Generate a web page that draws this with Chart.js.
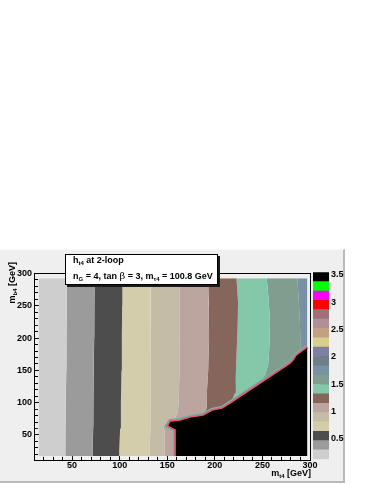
<!DOCTYPE html>
<html>
<head>
<meta charset="utf-8">
<script src="https://cdn.jsdelivr.net/npm/chart.js@4/dist/chart.umd.min.js"></script>
<style>
  body { margin:0; background:#ffffff; }
  #wrap { position:relative; width:374px; height:484px; overflow:hidden; font-family:"Liberation Sans", Arial, sans-serif; font-weight:bold; color:#000; }
  #pad { position:absolute; left:0; top:249px; width:343px; height:231px; background:#efefef; border-top:1px solid #fbfbfb; border-right:2px solid #b9b9b9; border-bottom:2px solid #b9b9b9; }
  canvas { position:absolute; left:0; top:0; }
  #tbox { position:absolute; left:65px; top:254px; width:151px; height:29px; background:#fff; border:1px solid #000; box-shadow:2px 2px 0 #1a1a1a; font-size:9px; }
  .tl { position:absolute; left:7px; white-space:nowrap; line-height:10px; }
  sub { font-size:6px; vertical-align:-2px; line-height:0; }
  .sym { font-family:"DejaVu Serif", serif; font-weight:normal; font-size:10px; }
  #xt { position:absolute; right:63px; top:468px; font-size:9px; white-space:nowrap; line-height:10px; }
  #yt { position:absolute; left:7px; top:262px; font-size:9px; white-space:nowrap; line-height:10px; transform-origin:0 0; transform:rotate(-90deg) translateX(-100%); }
</style>
</head>
<body>
<div id="wrap">
  <div id="pad"></div>
  <canvas id="main" width="374" height="484"></canvas>
  <canvas id="cbar" width="374" height="484"></canvas>
  <div id="tbox">
    <div class="tl" style="top:0px">h<sub>t4</sub> at 2-loop</div>
    <div class="tl" style="top:16px">n<sub>G</sub> = 4, tan <span class="sym">β</span> = 3, m<sub>τ4</sub> = 100.8 GeV</div>
  </div>
  <div id="xt">m<sub>t4</sub> [GeV]</div>
  <div id="yt">m<sub>b4</sub> [GeV]</div>
</div>
<script>
// ---------------- data ----------------
const xTickLabels = [50, 100, 150, 200, 250, 300];
const yTickLabels = [50, 100, 150, 200, 250, 300];
const zTickLabels = [0.5, 1, 1.5, 2, 2.5, 3, 3.5];

// contour levels of h_t4 (palette edges, bottom to top)
const contourLevels = [0.127, 0.298, 0.469, 0.640, 0.811, 0.982, 1.153, 1.324, 1.495, 1.666,
                       1.837, 2.008, 2.180, 2.351, 2.522, 2.693, 2.864, 3.035, 3.206, 3.377, 3.548];
const paletteColors = ['#cecece', '#9b9b9b', '#4d4d4d', '#d3cdab', '#c4bca7', '#bca59e', '#86665a',
                       '#84c7a9', '#809d8f', '#7892a3', '#6e7f89', '#7f7fa1', '#d6d08b', '#c1a180',
                       '#b08f98', '#a06f79', '#ff0000', '#ff00ff', '#00ff00', '#000000'];

// contour boundaries: [m_t4, m_b4] in GeV, ordered by m_b4
const edgeLeft  = [[15, 17.25], [15, 292.75]];
const contour1  = [[42.6, 17.25], [43.0, 60], [43.4, 100], [43.8, 150], [44.2, 200], [44.5, 250], [44.8, 292.75]];
const contour2  = [[71.6, 17.25], [72.0, 60], [72.4, 100], [72.8, 150], [73.1, 200], [73.4, 250], [73.7, 292.75]];
const contour3  = [[99.3, 17.25], [100.5, 60], [101.3, 100], [101.9, 150], [102.3, 200], [102.6, 250], [102.8, 292.75]];
const contour4  = [[131.3, 17.25], [132.1, 60], [132.4, 100], [132.4, 150], [132.3, 200], [132.5, 250], [132.8, 292.75]];
const contour5  = [[147.5, 17.25], [147.5, 55], [145.5, 64], [150, 70], [158, 76], [161, 85], [162, 100], [162.7, 150], [162.9, 200], [162.9, 250], [162.8, 292.75]];
const contour6  = [[190.5, 17.25], [190.5, 85], [191.5, 95], [191.8, 120], [193, 150], [193.9, 200], [193.6, 250], [193.1, 292.75]];
const contour7  = [[212.5, 17.25], [212.5, 96], [218.1, 104], [221.2, 115], [222, 140], [223, 182], [224, 220], [224.4, 255], [222.8, 292.75]];
const contour8  = [[250, 17.25], [250, 138], [252.8, 143], [256, 158], [257.5, 190], [258, 228], [256.5, 260], [254.5, 292.75]];
const contour9  = [[290.5, 17.25], [290.5, 186], [289.9, 200], [288.5, 250], [286.7, 292.75]];
const edgeRight = [[297, 17.25], [297, 292.75]];

// edge of the region with h_t4 above the top level (black)
const blackEdge = [[158.2, 17.25], [158.2, 57.7], [149.8, 63.9], [153.0, 71.6], [163.4, 73.2], [173.9, 77.8],
                   [187.6, 80.9], [197.0, 88.6], [207.5, 91.7], [215.9, 99.5], [279.0, 161.4], [282.1, 166.1],
                   [285.3, 173.8], [289.5, 178.4], [297, 186.2]];

const boundaries = [edgeLeft, contour1, contour2, contour3, contour4, contour5,
                    contour6, contour7, contour8, contour9, edgeRight];

// ---------------- main chart ----------------
const font = { family: '"Liberation Sans", Arial, sans-serif', size: 9, weight: 'bold' };
const seam = 'rgba(255,255,255,0.13)';

const datasets = [];
datasets.push({ data: blackEdge, borderColor: '#f0507c', borderWidth: 1.6, backgroundColor: '#000000',
                fill: 2 + boundaries.length - 1, pointRadius: 0, xAxisID: 'x', yAxisID: 'y' });
datasets.push({ data: blackEdge, borderColor: '#6cb79c', borderWidth: 4.5, fill: false,
                pointRadius: 0, xAxisID: 'x', yAxisID: 'y' });
boundaries.forEach((b, i) => {
  datasets.push({ data: b, borderWidth: 0, borderColor: 'rgba(0,0,0,0)',
                  backgroundColor: i ? paletteColors[i - 1] : 'rgba(0,0,0,0)',
                  fill: i ? '-1' : false, pointRadius: 0, xAxisID: 'x', yAxisID: 'y' });
});

const hiddenBase = (pos, weight, extra) => Object.assign({
  type: 'linear', position: pos, weight: weight, min: 10, max: 300,
  ticks: { display: false },
  border: { display: false },
}, extra);

new Chart(document.getElementById('main'), {
  type: 'line',
  data: { datasets },
  options: {
    responsive: false, animation: false, events: [], devicePixelRatio: 1,
    indexAxis: 'y',
    layout: { padding: { left: 0, top: 273.5, right: 64, bottom: 0 } },
    plugins: { legend: { display: false }, tooltip: { enabled: false } },
    elements: { line: { tension: 0 } },
    scales: {
      x: {
        type: 'linear', position: 'bottom', min: 10, max: 300, z: 1,
        ticks: { stepSize: 10, maxTicksLimit: 1000, autoSkip: false, maxRotation: 0, minRotation: 0, padding: 3, font, color: '#000',
                 callback: v => xTickLabels.includes(v) ? String(v) : '' },
        grid: { drawOnChartArea: false, drawTicks: true, tickLength: -4, tickColor: '#000', tickWidth: 1 },
        border: { display: true, color: '#000', width: 1 },
        afterFit: s => { s.height = 23.2; }
      },
      xMaj: hiddenBase('bottom', -1, {
        z: 1, ticks: { display: false, stepSize: 50 },
        grid: { drawOnChartArea: false, drawTicks: true, tickLength: -8, tickColor: '#000', tickWidth: 1 },
        afterFit: s => { s.height = 0; }
      }),
      xg: hiddenBase('bottom', -2, {
        z: 1,
        grid: { drawOnChartArea: true, drawTicks: false, color: seam, lineWidth: 1 },
        afterBuildTicks: s => { const t = []; for (let v = 15; v < 300; v += 10) t.push({ value: v }); s.ticks = t; },
        afterFit: s => { s.height = 0; }
      }),
      xTop: hiddenBase('top', 0, {
        grid: { drawOnChartArea: false, drawTicks: false },
        border: { display: true, color: '#000', width: 1 },
        afterFit: s => { s.height = 0; }
      }),
      y: {
        type: 'linear', position: 'left', min: 10, max: 300, z: 1,
        ticks: { stepSize: 10, maxTicksLimit: 1000, autoSkip: false, padding: 6, font, color: '#000',
                 callback: v => yTickLabels.includes(v) ? String(v) : '' },
        grid: { drawOnChartArea: false, drawTicks: true, tickLength: -4, tickColor: '#000', tickWidth: 1 },
        border: { display: true, color: '#000', width: 1 },
        afterFit: s => { s.width = 34; }
      },
      yMaj: hiddenBase('left', -1, {
        z: 1, ticks: { display: false, stepSize: 50 },
        grid: { drawOnChartArea: false, drawTicks: true, tickLength: -8, tickColor: '#000', tickWidth: 1 },
        afterFit: s => { s.width = 0; }
      }),
      yg: hiddenBase('left', -2, {
        z: 1,
        grid: { drawOnChartArea: true, drawTicks: false, color: seam, lineWidth: 1 },
        afterBuildTicks: s => { const t = []; for (let v = 17.25; v < 300; v += 14.5) t.push({ value: v }); s.ticks = t; },
        afterFit: s => { s.width = 0; }
      }),
      yR: hiddenBase('right', 0, {
        grid: { drawOnChartArea: false, drawTicks: false },
        border: { display: true, color: '#000', width: 1 },
        afterFit: s => { s.width = 0; }
      })
    }
  }
});

// ---------------- colour bar ----------------
const barSets = paletteColors.map((c, i) => ({
  data: [[contourLevels[i], contourLevels[i + 1]]],
  backgroundColor: c, borderWidth: 0, barPercentage: 1, categoryPercentage: 1, grouped: false
}));

new Chart(document.getElementById('cbar'), {
  type: 'bar',
  data: { labels: ['h_t4'], datasets: barSets },
  options: {
    responsive: false, animation: false, events: [], devicePixelRatio: 1,
    layout: { padding: { left: 313, top: 272.3, right: 0, bottom: 24.7 } },
    plugins: { legend: { display: false }, tooltip: { enabled: false } },
    scales: {
      x: { type: 'category', display: false },
      y: {
        type: 'linear', position: 'right', min: contourLevels[0], max: contourLevels[contourLevels.length - 1], z: 1,
        afterBuildTicks: s => { s.ticks = zTickLabels.map(v => ({ value: v })); },
        ticks: { font, color: '#000', padding: 10, autoSkip: false, callback: v => String(v) },
        grid: { drawOnChartArea: false, drawTicks: true, tickLength: -8, tickColor: '#1a1a1a', tickWidth: 1 },
        border: { display: false },
        afterFit: s => { s.width = 45; }
      }
    }
  }
});
</script>
</body>
</html>
